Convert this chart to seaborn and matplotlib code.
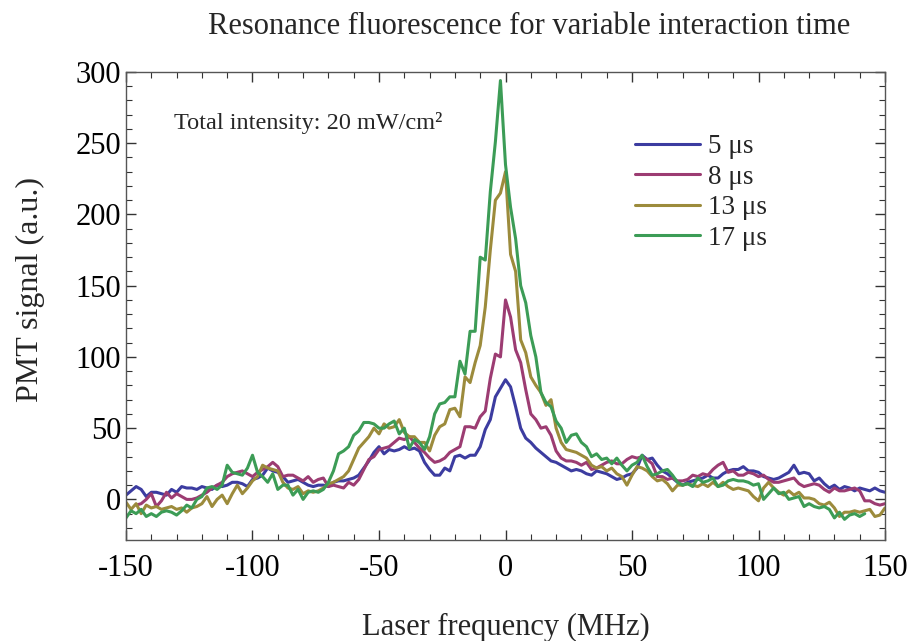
import numpy as np
import pandas as pd
import matplotlib
matplotlib.use("Agg")
import matplotlib.pyplot as plt
from matplotlib.ticker import MultipleLocator
import seaborn as sns

nan = np.nan
freq = np.arange(-150, 151, 2)

sig_5us = [
    3, 6, 9, 7, 2, 5, 5, 4, 3, 7,
    5, 9, 8, 8, 7, 9, 8, 7, 10, 9,
    10, 12, 12, 11, 9, 14, 15, 17, 22, 20,
    19, 16, 12, 13, 14, 12, 10, 9, 10, 10,
    9, 12, 13, 13, 14, 15, 17, 22, 27, 33,
    37, 32, 35, 34, 35, 37, 35, 36, 34, 26,
    21, 17, 17, 22, 20, 30, 31, 29, 31, 31,
    37, 49, 56, 72, 78, 84, 79, 65, 50, 43,
    40, 36, 33, 30, 27, 26, 24, 22, 20, 21,
    20, 18, 17, 20, 19, 18, 16, 14, 15, 17,
    18, 22, 31, 28, 29, 24, 20, 18, 15, 12,
    10, 12, 13, 14, 15, 17, 15, 15, 18, 20,
    21, 21, 23, 20, 20, 19, 16, 15, 14, 15,
    17, 19, 24, 18, 19, 18, 13, 15, 11, 8,
    10, 7, 9, 8, 6, 8, 7, 6, 8, 6,
    5,
]

sig_8us = [
    nan, nan, -4, -3, 0, 4, -5, -1, 5, 1,
    4, 2, 0, 0, 1, 3, 5, 8, 10, 12,
    16, 18, 19, 20, 18, 16, 19, 21, 23, 26,
    23, 16, 17, 17, 15, 13, 16, 12, 14, 15,
    9, 10, 9, 8, 12, 10, 14, 21, 28, 30,
    35, 36, 37, 40, 43, 42, 44, 40, 36, 33,
    29, 26, 27, 29, 33, 35, 37, 51, 51, 50,
    58, 62, 85, 102, 100, 140, 128, 105, 96, 77,
    60, 56, 50, 51, 45, 34, 29, 27, 27, 26,
    24, 26, 21, 22, 24, 26, 27, 25, 25, 28,
    30, 29, 30, 28, 25, 16, 16, 14, 15, 13,
    13, 14, 17, 16, 18, 17, 21, 24, 26, 19,
    20, 17, 17, 19, 18, 16, 17, 14, 12, 12,
    13, 14, 15, 11, 9, 10, 11, 10, 7, 5,
    8, 6, 6, 7, 8, 6, -1, -1, -3, -4,
    -3,
]

sig_13us = [
    -2, -7, -3, -10, -4, -6, -5, -7, -6, -5,
    -7, -6, -9, -6, -5, -3, 2, -5, 0, 3,
    -3, 4, 10, 4, 8, 13, 16, 24, 22, 21,
    20, 12, 8, 7, 9, 4, 6, 5, 6, 8,
    11, 12, 14, 16, 20, 28, 36, 40, 44, 50,
    46, 53, 50, 51, 56, 47, 44, 44, 40, 40,
    34, 45, 51, 53, 63, 64, 58, 86, 82, 96,
    108, 135, 175, 210, 215, 230, 172, 160, 112, 103,
    86, 80, 75, 66, 70, 50, 40, 35, 34, 33,
    31, 29, 24, 22, 23, 20, 22, 18, 16, 10,
    17, 23, 22, 20, 16, 13, 14, 11, 6, 10,
    10, 11, 10, 9, 11, 9, 12, 9, 12, 9,
    7, 8, 7, 6, 2, -1, 8, 12, 8, 5,
    3, 6, 3, 5, 1, 1, 0, -3, -4, -2,
    -6, -12, -9, -9, -8, -9, -8, -7, -12, -11,
    -6,
]

sig_17us = [
    -13, -8, -10, -7, -12, -10, -12, -9, -8, -9,
    -11, -8, -4, -6, 0, 2, 8, 9, 7, 10,
    24, 19, 18, 17, 22, 31, 19, 16, 12, 18,
    7, 10, 10, 3, 7, 0, 5, 6, 5, 7,
    12, 20, 32, 34, 37, 45, 48, 54, 54, 53,
    50, 50, 53, 55, 46, 50, 36, 42, 40, 35,
    44, 60, 67, 68, 72, 72, 97, 88, 118, 118,
    170, 168, 216, 251, 294, 235, 205, 183, 150, 138,
    115, 100, 75, 68, 65, 55, 50, 40, 45, 46,
    40, 37, 30, 32, 28, 29, 25, 29, 24, 20,
    24, 26, 31, 23, 17, 18, 20, 21, 17, 12,
    10, 11, 9, 15, 12, 13, 15, 9, 10, 13,
    14, 13, 13, 12, 10, 11, 0, 4, 8, 4,
    5, 0, 1, 2, -5, -3, -5, -6, -5, -7,
    -13, -9, -14, -11, -10, -12, -10, nan, nan, nan,
    nan,
]

series_labels = ["5 \u03bcs", "8 \u03bcs", "13 \u03bcs", "17 \u03bcs"]
series_values = [sig_5us, sig_8us, sig_13us, sig_17us]
colors = ["#3C3CA0", "#9C3C72", "#9C8B3C", "#3C9C56"]

frames = []
for lab, vals in zip(series_labels, series_values):
    frames.append(pd.DataFrame({"freq": freq, "signal": np.array(vals, dtype=float), "series": lab}))
df = pd.concat(frames, ignore_index=True)

sns.set_style("ticks")
plt.rcParams["font.family"] = ["Liberation Serif", "DejaVu Serif"]
plt.rcParams["axes.unicode_minus"] = False

fig = plt.figure(figsize=(9.11, 6.41), dpi=100)
ax = fig.add_axes([126 / 911, 1 - 540 / 641, (885 - 126) / 911, (540 - 72) / 641])

sns.lineplot(data=df, x="freq", y="signal", hue="series", hue_order=series_labels,
             palette=colors, estimator=None, sort=False, linewidth=2.2, ax=ax)

ax.set_xlim(-150, 150)
ax.set_ylim(-28.5, 300)
ax.xaxis.set_major_locator(MultipleLocator(50))
ax.xaxis.set_minor_locator(MultipleLocator(10))
ax.yaxis.set_major_locator(MultipleLocator(50))
ax.yaxis.set_minor_locator(MultipleLocator(10))
ax.tick_params(which="both", direction="in", top=True, right=True, colors="#333333",
               labelcolor="black", labelsize=22)
ax.tick_params(which="major", length=7, width=1.0)
ax.tick_params(which="minor", length=4, width=0.8)
ax.tick_params(axis="x", which="major", pad=10)
for s in ax.spines.values():
    s.set_color("#555555")
    s.set_linewidth(1.0)

ax.set_xlabel("")
ax.set_ylabel("")
fig.text(506 / 911, 1 - 627 / 641, "Laser frequency (MHz)", ha="center", va="center", fontsize=22)
fig.text(30 / 911, 1 - 290 / 641, "PMT signal (a.u.)", ha="center", va="center",
         rotation=90, fontsize=23)
fig.text(529 / 911, 1 - 27 / 641, "Resonance fluorescence for variable interaction time",
         ha="center", va="center", fontsize=22)

ax.text(-131, 264, "Total intensity: 20 mW/cm\u00b2", ha="left", va="center", fontsize=17.5)

leg = ax.legend(loc="upper left", bbox_to_anchor=(0.656, 0.89), frameon=False, fontsize=19.5,
                handlelength=2.4, handletextpad=0.3, labelspacing=0.2, borderaxespad=0)

fig.savefig("out.png", dpi=100)
